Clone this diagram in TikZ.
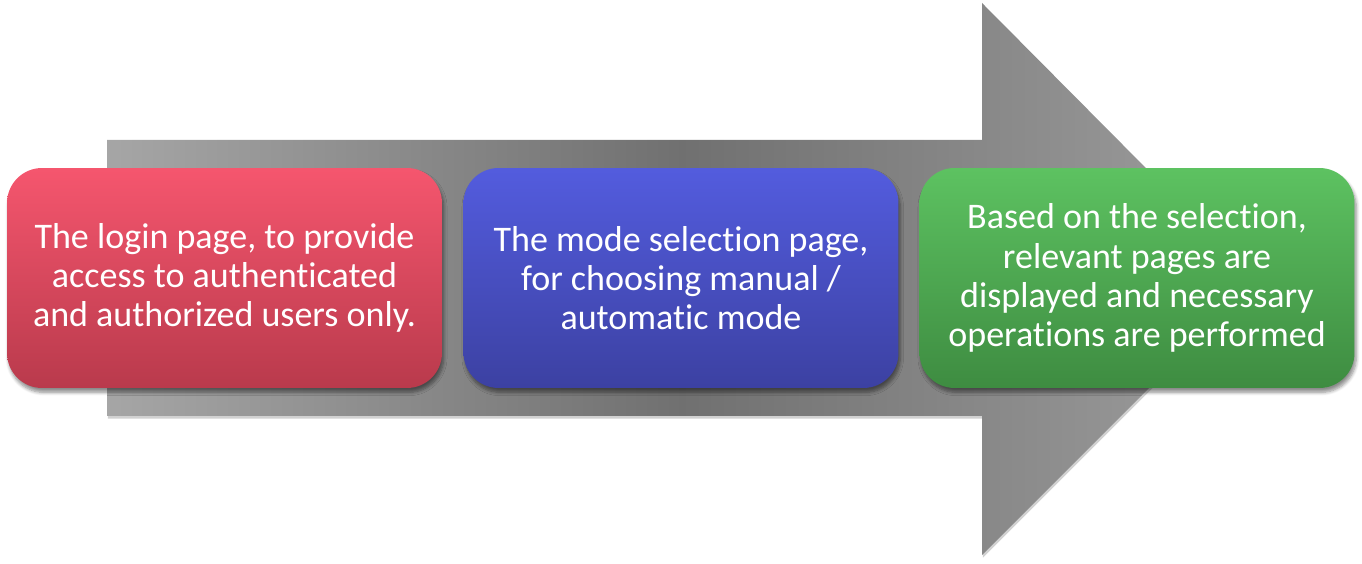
\documentclass[tikz,border=0pt]{standalone}
\usepackage{fontspec}
\setmainfont{Carlito}[RawFeature={-liga;-clig;-calt}]
\usetikzlibrary{shadows.blur}
\definecolor{redtop}{RGB}{245,86,110}
\definecolor{redbot}{RGB}{185,58,76}
\definecolor{bluetop}{RGB}{83,92,222}
\definecolor{bluebot}{RGB}{60,65,162}
\definecolor{greentop}{RGB}{93,194,97}
\definecolor{greenbot}{RGB}{62,140,65}
\tikzset{
  stage/.style={rounded corners=0.7cm,minimum width=8.7cm,minimum height=4.4cm,
    align=center,text=white,font=\fontsize{20.5pt}{22.3pt}\selectfont,
    blur shadow={shadow xshift=1pt,shadow yshift=-2.5pt,shadow blur steps=6,shadow opacity=45}},
}
\begin{document}
\begin{tikzpicture}[x=0.02cm,y=0.02cm,line join=round]
			\useasboundingbox (0,0) rectangle (1362,564);
			% big grey arrow behind the stages
			\def\h{275}
			\def\arrowpath{(107,148)--(107,424)--(982,424)--(982,561)--(982+\h,284)--(982,9)--(982,148)--cycle}
			\fill[black,opacity=.18] [xshift=0.5pt,yshift=-1.5pt] \arrowpath;
			\shade[left color=black!35,right color=black!38,middle color=black!56] \arrowpath;
			\node[stage,top color=redtop,bottom color=redbot] (login) at (224.5,286)
			  {The login page, to provide\\access to authenticated\\and authorized users only.};
			\node[stage,top color=bluetop,bottom color=bluebot] (mode) at (681,286)
			  {The mode selection page,\\for choosing manual /\\automatic mode};
			\node[stage,top color=greentop,bottom color=greenbot] (result) at (1137,286)
			  {Based on the selection,\\relevant pages are\\displayed and necessary\\operations are performed};
	\end{tikzpicture}
\end{document}
